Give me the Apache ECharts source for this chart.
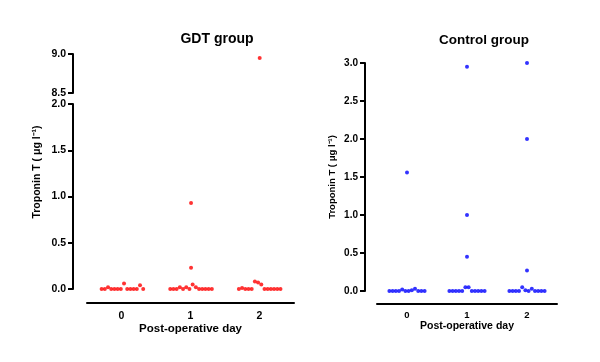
<!DOCTYPE html>
<html>
<head>
<meta charset="utf-8">
<script src="https://cdn.jsdelivr.net/npm/echarts@6/dist/echarts.min.js"></script>
<style>html,body{margin:0;padding:0;background:#fff}#c{width:600px;height:362px}</style>
</head>
<body>
<div id="c"></div>
<script>
// ---- data (in patient order within each day) ----
const days = ['0', '1', '2'];
const gdtDay0 = [0, 0, 0.02, 0, 0, 0, 0, 0.06, 0, 0, 0, 0, 0.04, 0];
const gdtDay1 = [0, 0, 0, 0.02, 0, 0.02, 0, 0.05, 0.02, 0, 0, 0, 0, 0, 0.93, 0.23];
const gdtDay2 = [0, 0.01, 0, 0, 0, 0.08, 0.07, 0.05, 0, 0, 0, 0, 0, 0, 8.95];
const ctlDay0 = [0, 0, 0, 0, 0.02, 0, 0, 0.01, 0.03, 0, 0, 0, 1.56];
const ctlDay1 = [0, 0, 0, 0, 0, 0.05, 0.05, 0, 0, 0, 0, 0, 2.95, 1.0, 0.45];
const ctlDay2 = [0, 0, 0, 0, 0.05, 0.01, 0, 0.03, 0, 0, 0, 0, 3.0, 2.0, 0.27];
const gdtLowerTicks = [0, 0.5, 1.0, 1.5, 2.0];
const gdtUpperTicks = [8.5, 9.0];
const ctlTicks = [0, 0.5, 1.0, 1.5, 2.0, 2.5, 3.0];

// ---- column-scatter layout (GraphPad-like binning) ----
function swarm(values, day, step, binSize) {
  const bins = {};
  values.forEach(v => { const b = Math.floor(v / binSize + 1e-9); (bins[b] = bins[b] || []).push(v); });
  const out = [];
  Object.keys(bins).forEach(b => {
    const arr = bins[b], n = arr.length;
    arr.forEach((v, k) => out.push([day + (k - (n - 1) / 2) * step, v]));
  });
  return out;
}
const gdtStep = 3.2 / 68.63, ctlStep = 3.2 / 60, binSize = 0.1;
const gdtAll = [gdtDay0, gdtDay1, gdtDay2].flatMap((a, d) => swarm(a, d, gdtStep, binSize));
const ctlAll = [ctlDay0, ctlDay1, ctlDay2].flatMap((a, d) => swarm(a, d, ctlStep, binSize));
const gdtLow = gdtAll.filter(p => p[1] <= 2);
const gdtHigh = gdtAll.filter(p => p[1] > 2);

const FONT = 'Liberation Sans, Arial, sans-serif';
function yAx(grid, min, max, fs) {
  return {
    gridIndex: grid, type: 'value', min: min, max: max, interval: 0.5,
    axisLine: { show: true, onZero: false, lineStyle: { color: '#000', width: 2 } },
    axisTick: { show: true, inside: false, length: 5, lineStyle: { color: '#000', width: 2 } },
    axisLabel: { color: '#000', fontWeight: 'bold', fontSize: fs, fontFamily: FONT, margin: 7,
      formatter: v => v.toFixed(1) },
    splitLine: { show: false }
  };
}
function hiddenX(grid, min, max) {
  return { gridIndex: grid, type: 'value', min: min, max: max, show: false, splitLine: { show: false } };
}
function catX(grid, fs, margin, gap) {
  return {
    gridIndex: grid, type: 'category', data: days, boundaryGap: true, position: 'bottom',
    axisLine: { show: true, onZero: false, lineStyle: { color: '#000', width: 2 } },
    axisTick: { show: false },
    axisLabel: { color: '#000', fontWeight: 'bold', fontSize: fs, fontFamily: FONT, margin: margin },
    name: 'Post-operative day', nameLocation: 'middle', nameGap: gap,
    nameTextStyle: { color: '#000', fontWeight: 'bold', fontSize: fs + 1, fontFamily: FONT }
  };
}
function yLabel(x, y, fs) {
  return {
    type: 'text', x: x, y: y, rotation: Math.PI / 2,
    style: {
      text: 'Troponin T ( μg l⁻¹)',
      align: 'center', verticalAlign: 'middle',
      fontSize: fs, fontWeight: 'bold', fontFamily: FONT, fill: '#000'
    }
  };
}

const chart = echarts.init(document.getElementById('c'), null, { renderer: 'canvas' });
chart.setOption({
  animation: false,
  backgroundColor: '#fff',
  title: [
    { text: 'GDT group', left: 212, top: 27, textAlign: 'center',
      textStyle: { fontSize: 14, fontWeight: 'bold', fontFamily: FONT, color: '#000' } },
    { text: 'Control group', left: 479, top: 28, textAlign: 'center',
      textStyle: { fontSize: 13.5, fontWeight: 'bold', fontFamily: FONT, color: '#000' } }
  ],
  grid: [
    { left: 73, top: 54, width: 221, height: 39 },
    { left: 73, top: 104, width: 221, height: 185 },
    { left: 87, top: 302, width: 207, height: 1 },
    { left: 365, top: 63, width: 192, height: 228 },
    { left: 377, top: 303, width: 180, height: 1 }
  ],
  xAxis: [
    hiddenX(0, -0.72, 2.5),
    hiddenX(1, -0.72, 2.5),
    catX(2, 10.5, 8, 19),
    hiddenX(3, -0.7, 2.5),
    catX(4, 9.5, 6, 17)
  ],
  yAxis: [
    yAx(0, gdtUpperTicks[0], gdtUpperTicks[gdtUpperTicks.length - 1], 10.5),
    yAx(1, gdtLowerTicks[0], gdtLowerTicks[gdtLowerTicks.length - 1], 10.5),
    { gridIndex: 2, type: 'value', show: false },
    yAx(3, ctlTicks[0], ctlTicks[ctlTicks.length - 1], 10),
    { gridIndex: 4, type: 'value', show: false }
  ],
  series: [
    { type: 'scatter', xAxisIndex: 0, yAxisIndex: 0, data: gdtHigh, symbolSize: 4, clip: false,
      itemStyle: { color: '#ff0000' } },
    { type: 'scatter', xAxisIndex: 1, yAxisIndex: 1, data: gdtLow, symbolSize: 4, clip: false,
      itemStyle: { color: '#ff0000' } },
    { type: 'scatter', xAxisIndex: 3, yAxisIndex: 3, data: ctlAll, symbolSize: 4, clip: false,
      itemStyle: { color: '#0000ff' } }
  ],
  graphic: [ yLabel(37, 172, 10.5), yLabel(332, 177, 9.5) ]
});
</script>
</body>
</html>
